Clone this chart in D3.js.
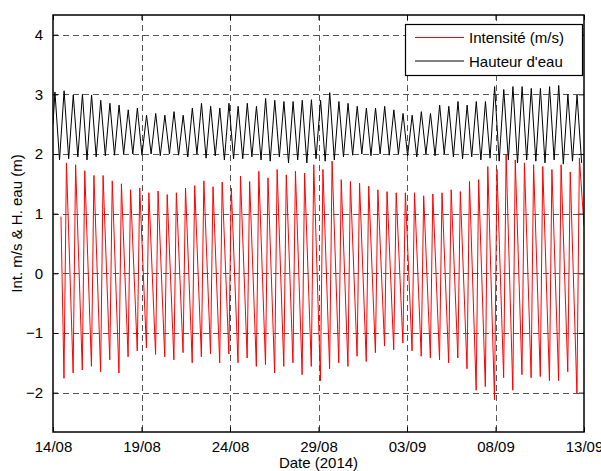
<!DOCTYPE html>
<html>
<head>
<meta charset="utf-8">
<script src="https://cdn.jsdelivr.net/npm/d3@7"></script>
<style>
  body { margin: 0; background: #fff; }
  text { font-family: Arial, "Liberation Sans", sans-serif; }
</style>
</head>
<body>
<script>
// tick labels / dates of the x axis
var tickDates = ["2014-08-14", "2014-08-19", "2014-08-24", "2014-08-29", "2014-09-03", "2014-09-08", "2014-09-13"];
var yTicks = [-2, -1, 0, 1, 2, 3, 4];

// tide cycle: ~58 cycles over the 30 days
var cycleDays = 0.5175;
var blackFirstHigh = 0.11;   // days after 14/08
var redFirstMin = 0.62;
var redFirstMax = 0.76;

// Hauteur d'eau : high and low water of each cycle (m)
var heightStart = 2.5;
var heightHigh = [3.04, 3.06, 2.99, 3.0, 2.99, 2.9, 2.85, 2.82, 2.74, 2.77, 2.65, 2.68, 2.65, 2.71, 2.65, 2.77, 2.85, 2.8, 2.77, 2.85,
                  2.8, 2.85, 2.8, 2.93, 2.9, 2.88, 2.88, 2.9, 2.91, 2.9, 3.03, 2.88, 2.85, 2.8, 2.77, 2.77, 2.8, 2.74, 2.68,
                  2.65, 2.71, 2.68, 2.82, 2.8, 2.88, 2.82, 2.88, 2.88, 3.13, 3.08, 3.13, 3.13, 3.1, 3.1, 3.13, 3.15, 3.0, 2.99];
var heightLow = [1.9, 1.92, 1.95, 1.9, 1.95, 1.97, 1.98, 2.0, 2.0, 1.98, 2.0, 1.97, 2.0, 1.98, 1.95, 2.0, 1.93, 1.97, 1.9, 1.92,
                 1.92, 1.95, 1.9, 1.88, 1.95, 1.85, 1.9, 1.85, 1.92, 1.88, 1.9, 1.95, 1.98, 2.0, 1.97, 2.0, 1.98, 2.0, 1.97,
                 1.95, 2.0, 1.97, 2.0, 1.95, 1.92, 1.95, 1.9, 1.93, 1.88, 1.9, 1.85, 1.9, 1.88, 1.85, 1.9, 1.83, 1.88, 1.85];

// Intensite : min and max current of each cycle (m/s)
var speedStart = 0.95, speedStartDay = 0.45;
var speedEnd = 0.8;
var speedMin = [-1.76, -1.67, -1.62, -1.56, -1.65, -1.45, -1.67, -1.4, -1.3, -1.25, -1.36, -1.4, -1.45, -1.33, -1.5, -1.4, -1.35, -1.5,
                -1.35, -1.5, -1.42, -1.56, -1.53, -1.67, -1.56, -1.5, -1.7, -1.56, -1.8, -1.6, -1.5, -1.56, -1.39, -1.48, -1.33, -1.22, -1.28, -1.17,
                -1.3, -1.39, -1.42, -1.45, -1.5, -1.42, -1.6, -1.96, -1.9, -2.12, -1.75, -1.96, -1.7, -1.75, -1.73, -1.8, -1.8, -1.65, -2.01];
var speedMax = [1.85, 1.82, 1.72, 1.64, 1.64, 1.55, 1.5, 1.4, 1.43, 1.35, 1.38, 1.32, 1.35, 1.43, 1.47, 1.55, 1.45, 1.53,
                1.43, 1.63, 1.54, 1.71, 1.6, 1.74, 1.65, 1.71, 1.68, 1.82, 1.74, 1.88, 1.57, 1.54, 1.51, 1.46, 1.4, 1.37, 1.35, 1.35,
                1.35, 1.3, 1.33, 1.35, 1.4, 1.37, 1.54, 1.57, 1.79, 1.74, 1.99, 1.9, 1.85, 1.82, 1.79, 1.74, 1.82, 1.7, 1.93];

var width = 601, height = 471;
var margin = {left: 53, right: 17, top: 15, bottom: 39};

var t0 = new Date(Date.UTC(2014, 7, 14));
var dayMs = 864e5;
function dayToDate(d) { return new Date(t0.getTime() + d * dayMs); }

// build the two series
var heightData = [{t: dayToDate(0), v: heightStart}];
heightHigh.forEach(function (h, i) {
    heightData.push({t: dayToDate(blackFirstHigh + i * cycleDays), v: h});
    heightData.push({t: dayToDate(blackFirstHigh + (i + 0.5) * cycleDays), v: heightLow[i]});
});

var speedData = [{t: dayToDate(speedStartDay), v: speedStart}];
speedMin.forEach(function (m, i) {
    speedData.push({t: dayToDate(redFirstMin + i * cycleDays), v: m});
    speedData.push({t: dayToDate(redFirstMax + i * cycleDays), v: speedMax[i]});
});
speedData.push({t: dayToDate(30), v: speedEnd});

var tickValues = tickDates.map(function (s) { return new Date(s + "T00:00:00Z"); });

var x = d3.scaleUtc()
    .domain([tickValues[0], tickValues[tickValues.length - 1]])
    .range([margin.left, width - margin.right]);
var y = d3.scaleLinear()
    .domain([-2.66, 4.33])
    .range([height - margin.bottom, margin.top]);

var svg = d3.select("body").append("svg")
    .attr("width", width)
    .attr("height", height);

var x0 = x.range()[0], x1 = x.range()[1], y0 = y.range()[0], y1 = y.range()[1];

svg.append("defs").append("clipPath").attr("id", "clip")
    .append("rect")
    .attr("x", x0).attr("y", y1).attr("width", x1 - x0).attr("height", y0 - y1);

// dashed grid
var grid = svg.append("g").attr("stroke", "#555").attr("stroke-width", 1).attr("stroke-dasharray", "6,4");
grid.selectAll(".gx").data(tickValues.slice(1, -1)).enter().append("line")
    .attr("x1", function (d) { return Math.round(x(d)) + 0.5; })
    .attr("x2", function (d) { return Math.round(x(d)) + 0.5; })
    .attr("y1", y1).attr("y2", y0);
grid.selectAll(".gy").data(yTicks).enter().append("line")
    .attr("y1", function (d) { return Math.round(y(d)) + 0.5; })
    .attr("y2", function (d) { return Math.round(y(d)) + 0.5; })
    .attr("x1", x0).attr("x2", x1);

var line = d3.line()
    .x(function (d) { return x(d.t); })
    .y(function (d) { return y(d.v); });

var plot = svg.append("g").attr("clip-path", "url(#clip)");
plot.append("path")
    .datum(speedData)
    .attr("fill", "none")
    .attr("stroke", "#ff0000")
    .attr("stroke-width", 1)
    .attr("d", line);
plot.append("path")
    .datum(heightData)
    .attr("fill", "none")
    .attr("stroke", "#000")
    .attr("stroke-width", 1)
    .attr("d", line);

// axes, ticks pointing inside like matlab
var tickLen = 5;
svg.append("g")
    .attr("transform", "translate(0," + y0 + ")")
    .call(d3.axisBottom(x).tickValues(tickValues).tickFormat(d3.utcFormat("%d/%m")).tickSize(-tickLen).tickPadding(9))
    .call(function (g) { g.select(".domain").remove(); });
svg.append("g")
    .attr("transform", "translate(0," + y1 + ")")
    .call(d3.axisTop(x).tickValues(tickValues).tickFormat("").tickSize(-tickLen))
    .call(function (g) { g.select(".domain").remove(); });
svg.append("g")
    .attr("transform", "translate(" + x0 + ",0)")
    .call(d3.axisLeft(y).tickValues(yTicks).tickFormat(d3.format("d")).tickSize(-tickLen).tickPadding(10))
    .call(function (g) { g.select(".domain").remove(); });
svg.append("g")
    .attr("transform", "translate(" + x1 + ",0)")
    .call(d3.axisRight(y).tickValues(yTicks).tickFormat("").tickSize(-tickLen))
    .call(function (g) { g.select(".domain").remove(); });

svg.selectAll(".tick text").attr("font-size", 15).attr("fill", "#000")
    .attr("font-family", "Arial, 'Liberation Sans', sans-serif");
svg.selectAll(".tick line").attr("stroke", "#000");

svg.append("rect")
    .attr("x", x0).attr("y", y1).attr("width", x1 - x0).attr("height", y0 - y1)
    .attr("fill", "none").attr("stroke", "#000").attr("stroke-width", 1.5);

// axis titles
svg.append("text")
    .attr("x", (x0 + x1) / 2).attr("y", 468)
    .attr("text-anchor", "middle").attr("font-size", 15)
    .text("Date (2014)");
svg.append("text")
    .attr("transform", "translate(22," + (y0 + y1) / 2 + ") rotate(-90)")
    .attr("text-anchor", "middle").attr("font-size", 15)
    .text("Int. m/s & H. eau (m)");

// legend
var legend = svg.append("g");
legend.append("rect")
    .attr("x", 405.5).attr("y", 24.5).attr("width", 177).attr("height", 51)
    .attr("fill", "#fff").attr("stroke", "#000").attr("stroke-width", 1.2);
var legendItems = [{label: "Intensité (m/s)", color: "#ff0000"}, {label: "Hauteur d'eau", color: "#000"}];
legendItems.forEach(function (d, i) {
    var ly = 37.5 + i * 23.5;
    legend.append("line")
        .attr("x1", 415).attr("x2", 464).attr("y1", ly).attr("y2", ly)
        .attr("stroke", d.color).attr("stroke-width", 1);
    legend.append("text")
        .attr("x", 469).attr("y", ly + 5.5).attr("font-size", 15)
        .text(d.label);
});
</script>
</body>
</html>
